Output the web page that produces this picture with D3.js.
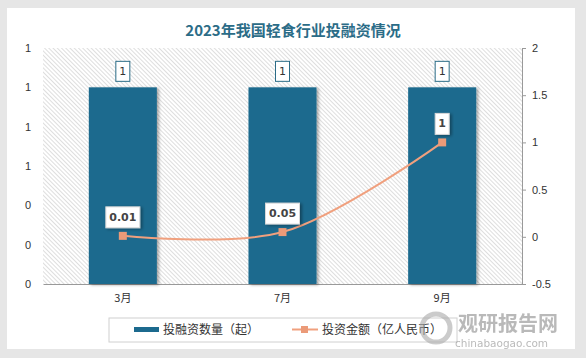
<!DOCTYPE html>
<html>
<head>
<meta charset="utf-8">
<title>2023年我国轻食行业投融资情况</title>
<script src="https://cdnjs.cloudflare.com/ajax/libs/d3/7.8.5/d3.min.js"></script>
<style>
  html, body { margin: 0; padding: 0; background: #e6e6e6; }
  #chart { width: 586px; height: 358px; }
  svg { display: block; font-family: "DejaVu Sans", Verdana, sans-serif; }
</style>
</head>
<body>
<div id="chart"></div>
<script>
// data
var months = ["3月", "7月", "9月"];
var dealCount = [1, 1, 1];          // 投融资数量（起）
var dealAmount = [0.01, 0.05, 1];   // 投资金额（亿人民币）
var amountLabels = ["0.01", "0.05", "1"];
var leftTicks = [0, 0.2, 0.4, 0.6, 0.8, 1.0, 1.2];
var rightTicks = [-0.5, 0, 0.5, 1, 1.5, 2];

var W = 586, H = 358;
var m = { left: 43, right: 64, top: 48, bottom: 74 };

var svg = d3.select("#chart").append("svg")
  .attr("width", W).attr("height", H);

var defs = svg.append("defs");
var pat = defs.append("pattern")
  .attr("id", "hatch").attr("patternUnits", "userSpaceOnUse")
  .attr("width", 3).attr("height", 3)
  .attr("patternTransform", "rotate(-45)");
pat.append("rect").attr("width", 3).attr("height", 3).attr("fill", "#fff");
pat.append("line").attr("x1", 0.5).attr("y1", 0).attr("x2", 0.5).attr("y2", 3)
  .attr("stroke", "#dadada").attr("stroke-width", 0.9);

var sh = defs.append("filter").attr("id", "shadow")
  .attr("x", "-20%").attr("y", "-20%").attr("width", "150%").attr("height", "150%");
sh.append("feDropShadow").attr("dx", 2).attr("dy", 1).attr("stdDeviation", 1.5)
  .attr("flood-color", "#000").attr("flood-opacity", 0.35);

// white card
svg.append("rect").attr("x", 7).attr("y", 8).attr("width", 568).attr("height", 341)
  .attr("fill", "#fff");

var x = d3.scaleBand().domain(months).range([m.left, W - m.right]);
var yL = d3.scaleLinear().domain([0, 1.2]).range([H - m.bottom, m.top]);
var yR = d3.scaleLinear().domain([-0.5, 2]).range([H - m.bottom, m.top]);

// plot area
svg.append("rect")
  .attr("x", m.left).attr("y", m.top)
  .attr("width", W - m.left - m.right).attr("height", H - m.top - m.bottom)
  .attr("fill", "url(#hatch)");

// title
svg.append("text")
  .attr("x", 293).attr("y", 36)
  .attr("text-anchor", "middle")
  .style("font-family", "'Noto Sans CJK SC', sans-serif")
  .style("font-size", "15px").style("font-weight", "bold")
  .attr("fill", "#2b6c87")
  .text("2023年我国轻食行业投融资情况");

// left axis (labels only)
var axL = svg.append("g").attr("transform", "translate(" + m.left + ",0)")
  .call(d3.axisLeft(yL).tickValues(leftTicks).tickFormat(d3.format(".0f")).tickSize(0).tickPadding(12));
axL.select(".domain").remove();
axL.selectAll("text").style("font-size", "11px").attr("fill", "#333");

// right axis
var axR = svg.append("g").attr("transform", "translate(" + (W - m.right) + ",0)")
  .call(d3.axisRight(yR).tickValues(rightTicks).tickFormat(function (d) { return d; }).tickSize(4).tickPadding(6));
axR.select(".domain").attr("stroke", "#999");
axR.selectAll(".tick line").attr("stroke", "#999");
axR.selectAll("text").style("font-size", "11px").attr("fill", "#333");

// bottom axis
var axB = svg.append("g").attr("transform", "translate(0," + (H - m.bottom) + ")")
  .call(d3.axisBottom(x).tickSize(0).tickPadding(10));
axB.select(".domain").attr("stroke", "#999");
axB.selectAll("text").style("font-size", "11px").attr("fill", "#333")
  .style("font-family", "'Noto Sans CJK SC', sans-serif");

// bars
var bw = 68;
svg.append("g").selectAll("rect").data(dealCount).enter().append("rect")
  .attr("x", function (d, i) { return x(months[i]) + x.bandwidth() / 2 - bw / 2; })
  .attr("y", function (d) { return yL(d); })
  .attr("width", bw)
  .attr("height", function (d) { return yL(0) - yL(d); })
  .attr("fill", "#1c6a8e")
  .attr("filter", "url(#shadow)");

// bar labels
var bl = svg.append("g").selectAll("g").data(dealCount).enter().append("g")
  .attr("transform", function (d, i) {
    return "translate(" + (x(months[i]) + x.bandwidth() / 2) + "," + (yL(d) - 16) + ")";
  });
bl.append("rect").attr("x", -7).attr("y", -10).attr("width", 14).attr("height", 20)
  .attr("fill", "#fff").attr("stroke", "#2b6c87").attr("stroke-width", 1);
bl.append("text").attr("text-anchor", "middle").attr("dy", "0.36em")
  .style("font-size", "11px").attr("fill", "#333").text(function (d) { return d; });

// line
var pts = dealAmount.map(function (d, i) { return [x(months[i]) + x.bandwidth() / 2, yR(d)]; });
svg.append("path").datum(pts)
  .attr("d", d3.line().curve(d3.curveCatmullRom.alpha(0.5)))
  .attr("fill", "none").attr("stroke", "#f0a07e").attr("stroke-width", 2);
svg.append("g").selectAll("rect").data(pts).enter().append("rect")
  .attr("x", function (p) { return p[0] - 4; }).attr("y", function (p) { return p[1] - 4; })
  .attr("width", 8).attr("height", 8).attr("fill", "#eb9a78");

// line labels
var ll = svg.append("g").selectAll("g").data(pts).enter().append("g")
  .attr("transform", function (p) { return "translate(" + p[0] + "," + (p[1] - 19) + ")"; });
ll.append("rect")
  .attr("x", function (p, i) { return amountLabels[i].length > 1 ? -17 : -7; })
  .attr("y", -10)
  .attr("width", function (p, i) { return amountLabels[i].length > 1 ? 34 : 14; })
  .attr("height", 21)
  .attr("fill", "#fff").attr("stroke", "#d8d8d8").attr("filter", "url(#shadow)");
ll.append("text").attr("text-anchor", "middle").attr("dy", "0.36em")
  .style("font-size", "11px").style("font-weight", "bold").attr("fill", "#444")
  .text(function (p, i) { return amountLabels[i]; });

// legend
var lg = svg.append("g");
lg.append("rect").attr("x", 109).attr("y", 318).attr("width", 348).attr("height", 24)
  .attr("fill", "#fff").attr("stroke", "#d0d0d0");
lg.append("rect").attr("x", 134).attr("y", 327).attr("width", 25).attr("height", 5).attr("fill", "#1c6a8e");
lg.append("text").attr("x", 163).attr("y", 334).style("font-size", "12px")
  .style("font-family", "'Noto Sans CJK SC', sans-serif").attr("fill", "#333").text("投融资数量（起）");
lg.append("line").attr("x1", 292).attr("x2", 318).attr("y1", 329.5).attr("y2", 329.5)
  .attr("stroke", "#f0a07e").attr("stroke-width", 2);
lg.append("rect").attr("x", 301).attr("y", 326).attr("width", 7).attr("height", 7).attr("fill", "#eb9a78");
lg.append("text").attr("x", 322).attr("y", 334).style("font-size", "12px")
  .style("font-family", "'Noto Sans CJK SC', sans-serif").attr("fill", "#333").text("投资金额（亿人民币）");

// watermark
var wm = svg.append("g").attr("opacity", 0.6);
wm.append("circle").attr("cx", 436).attr("cy", 328).attr("r", 14)
  .attr("fill", "none").attr("stroke", "#aaa").attr("stroke-width", 5);
wm.append("text").attr("x", 458).attr("y", 331).style("font-size", "20px").style("font-weight", "bold")
  .style("font-family", "'Noto Sans CJK SC', sans-serif").attr("fill", "#8c8c8c").text("观研报告网");
wm.append("text").attr("x", 455).attr("y", 347).style("font-size", "10.5px")
  .attr("fill", "#8c8c8c").text("chinabaogao.com");
</script>
</body>
</html>
